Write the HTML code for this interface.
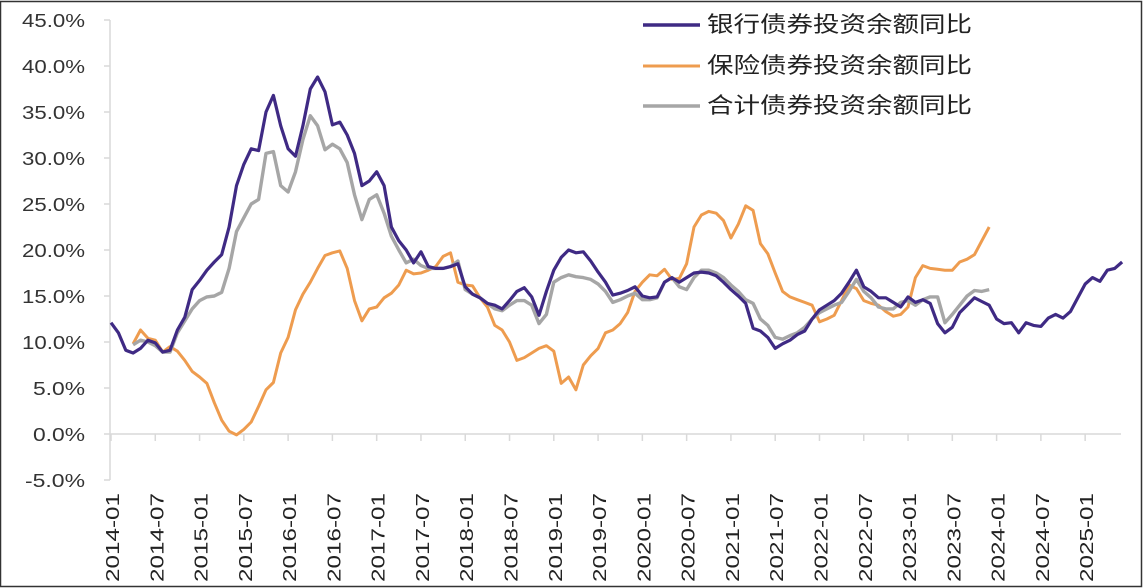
<!DOCTYPE html>
<html><head><meta charset="utf-8">
<style>
html,body{margin:0;padding:0;background:#fff;}
svg{display:block;font-family:"Liberation Sans","Noto Sans CJK SC",sans-serif;}
</style></head>
<body>
<svg id="chart" width="1143" height="588" viewBox="0 0 1143 588" xmlns="http://www.w3.org/2000/svg">
<rect x="0.5" y="1.5" width="1141" height="585" fill="#fff" stroke="#333" stroke-width="1.5"/>
<g id="axes"></g>
<g id="series"></g>
<g id="legend">
  <line x1="643" y1="25" x2="700" y2="25" stroke="#3f2a84" stroke-width="3.5"/>
  <text x="707" y="32" font-size="22" fill="#222" textLength="265" lengthAdjust="spacingAndGlyphs">银行债券投资余额同比</text>
  <line x1="643" y1="66" x2="700" y2="66" stroke="#ee9c4f" stroke-width="3"/>
  <text x="707" y="73" font-size="22" fill="#222" textLength="265" lengthAdjust="spacingAndGlyphs">保险债券投资余额同比</text>
  <line x1="643" y1="106" x2="700" y2="106" stroke="#a6a6a6" stroke-width="3.5"/>
  <text x="707" y="113" font-size="22" fill="#222" textLength="265" lengthAdjust="spacingAndGlyphs">合计债券投资余额同比</text>
</g>
</svg>
<script>
const yTicks = [-5,0,5,10,15,20,25,30,35,40,45];
const xTickLabels = ["2014-01","2014-07","2015-01","2015-07","2016-01","2016-07","2017-01","2017-07","2018-01","2018-07","2019-01","2019-07","2020-01","2020-07","2021-01","2021-07","2022-01","2022-07","2023-01","2023-07","2024-01","2024-07","2025-01"];
const bank = [12.1,11.0,9.1,8.8,9.3,10.2,9.9,8.9,9.1,11.3,12.7,15.7,16.7,17.8,18.7,19.5,22.5,27.0,29.3,31.0,30.8,35.0,36.8,33.5,31.0,30.2,33.5,37.5,38.8,37.2,33.6,33.9,32.5,30.5,27.0,27.5,28.5,27.0,22.5,21.0,20.0,18.6,19.8,18.2,18.0,18.0,18.2,18.5,16.0,15.2,14.8,14.2,14.0,13.6,14.5,15.5,15.9,14.9,12.9,15.5,17.8,19.2,20.0,19.7,19.8,18.8,17.6,16.5,15.1,15.3,15.6,16.0,15.0,14.8,14.9,16.5,17.0,16.5,17.0,17.5,17.6,17.5,17.2,16.5,15.7,15.0,14.2,11.5,11.2,10.5,9.3,9.8,10.2,10.8,11.2,12.5,13.5,14.0,14.5,15.3,16.5,17.8,16.0,15.5,14.8,14.8,14.3,13.8,14.9,14.3,14.6,14.2,12.0,11.0,11.6,13.2,14.0,14.8,14.4,14.0,12.5,12.0,12.1,11.0,12.1,11.8,11.7,12.6,13.0,12.6,13.3,14.8,16.3,17.0,16.6,17.8,18.0,18.7];
const insuranceStart = 3;
const insurance = [9.8,11.3,10.4,10.2,8.9,9.5,9.0,8.0,6.8,6.2,5.5,3.4,1.5,0.3,-0.1,0.5,1.3,3.0,4.8,5.6,8.8,10.5,13.5,15.2,16.5,18.0,19.4,19.7,19.9,18.0,14.5,12.3,13.6,13.8,14.8,15.3,16.2,17.8,17.4,17.5,17.8,18.2,19.3,19.7,16.5,16.2,16.1,14.8,13.8,11.8,11.3,10.0,8.0,8.3,8.8,9.3,9.6,9.0,5.5,6.2,4.8,7.5,8.5,9.3,11.0,11.3,12.0,13.2,15.5,16.5,17.3,17.2,17.9,16.8,16.9,18.5,22.5,23.8,24.2,24.0,23.2,21.3,22.8,24.8,24.3,20.7,19.6,17.5,15.5,14.9,14.6,14.3,14.0,12.2,12.5,12.9,14.5,16.2,15.8,14.5,14.2,14.0,13.3,12.8,13.0,13.8,17.0,18.3,18.0,17.9,17.8,17.8,18.7,19.0,19.5,21.0,22.5];
const totalStart = 3;
const total = [9.7,10.2,10.0,9.6,8.9,8.9,11.0,12.3,13.6,14.5,14.9,15.0,15.4,18.0,22.0,23.5,25.0,25.5,30.5,30.7,27.0,26.3,28.5,32.0,34.6,33.5,30.9,31.5,31.0,29.5,26.0,23.3,25.5,26.0,24.0,21.5,20.0,18.6,19.0,18.3,18.0,18.0,18.0,18.2,18.8,15.7,15.2,14.8,14.2,13.6,13.4,14.0,14.5,14.5,14.0,12.0,13.0,16.5,17.0,17.3,17.1,17.0,16.8,16.3,15.5,14.3,14.6,15.0,15.3,14.6,14.6,14.8,16.5,17.0,16.0,15.7,17.0,17.8,17.8,17.5,17.0,16.2,15.5,14.6,14.2,12.5,11.8,10.5,10.3,10.7,11.0,11.6,12.5,13.2,13.6,14.0,14.3,15.5,16.8,15.5,14.8,13.8,13.6,13.6,14.3,14.5,14.0,14.6,14.9,14.9,12.1,13.0,14.0,15.0,15.6,15.5,15.7];

const X0 = 111, DX = 7.38, Y0 = 434, DY = 9.2;
function xs(i){ return X0 + i*DX; }
function ys(v){ return Y0 - v*DY; }
const NS = "http://www.w3.org/2000/svg";
function mk(tag, attrs, parent){ const e = document.createElementNS(NS, tag); for (const k in attrs) e.setAttribute(k, attrs[k]); parent.appendChild(e); return e; }

const axes = document.getElementById('axes');
const yAxis = mk('line', {x1:110, y1:ys(45), x2:110, y2:ys(-5), stroke:'#d9d9d9', 'stroke-width':1.5}, axes);


const xAxis = mk('line', {x1:110, y1:Y0, x2:1121, y2:Y0, stroke:'#d9d9d9', 'stroke-width':1.5}, axes);


yTicks.forEach(v => {
  const t = mk('line', {x1:104, y1:ys(v), x2:110, y2:ys(v), stroke:'#d9d9d9', 'stroke-width':1.5}, axes);
  
  
  const txt = v.toFixed(1) + '%';
  const w = txt.length === 5 ? (v < 0 ? 60 : 63) : 52;
  const l = mk('text', {x:85-w, y:ys(v)+7, 'font-size':18, fill:'#333', textLength:w, lengthAdjust:'spacingAndGlyphs'}, axes);
  l.textContent = txt;
  
  
});
xTickLabels.forEach((lab, k) => {
  const x = xs(k*6);
  const t = mk('line', {x1:x, y1:Y0, x2:x, y2:Y0+7, stroke:'#d9d9d9', 'stroke-width':1.5}, axes);
  
  
  const l = mk('text', {x:-89, y:0, 'font-size':18, fill:'#222', textLength:89, lengthAdjust:'spacingAndGlyphs', transform:'translate(' + (x+8) + ',493) rotate(-90)'}, axes);
  l.textContent = lab;
  
  
});

const series = document.getElementById('series');
function drawLine(vals, start, color, width, name){
  const pts = vals.map((v,i) => xs(i+start).toFixed(1) + ',' + ys(v).toFixed(1)).join(' ');
  const p = mk('polyline', {points:pts, fill:'none', stroke:color, 'stroke-width':width, 'stroke-linejoin':'round'}, series);
  
  
}
drawLine(insurance, insuranceStart, '#ee9c4f', 3, 'insurance-line');
drawLine(total, totalStart, '#a6a6a6', 3.4, 'total-line');
drawLine(bank, 0, '#3f2a84', 3.2, 'bank-line');
</script>
</body></html>
